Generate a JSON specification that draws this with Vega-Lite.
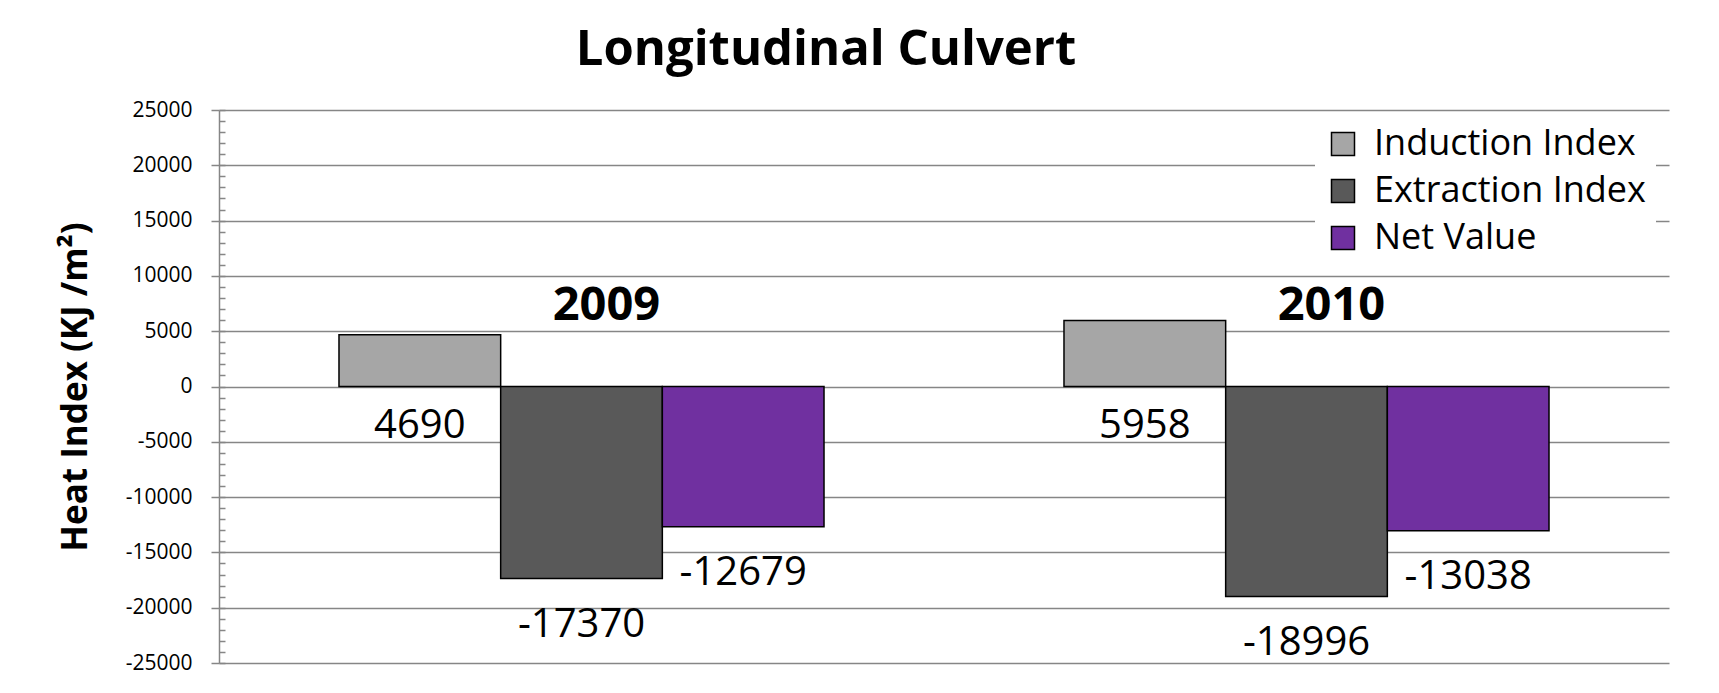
{
  "$schema": "https://vega.github.io/schema/vega-lite/v6.json",
  "width": 1450,
  "height": 553,
  "autosize": "none",
  "padding": {"left": 219, "top": 110, "right": 50, "bottom": 30},
  "background": "white",
  "config": {
    "view": {"stroke": null},
    "font": "Open Sans",
    "locale": {"number": {"decimal": ".", "thousands": ",", "grouping": [3], "currency": ["$", ""], "minus": "-"}}
  },
  "title": {"text": "Longitudinal Culvert", "font": "Open Sans", "fontSize": 49, "fontWeight": "bold", "color": "black", "anchor": "middle", "dx": -118, "offset": 24},
  "data": {"values": [
    {"year": "2009", "series": "Induction Index", "value": 4690},
    {"year": "2009", "series": "Extraction Index", "value": -17370},
    {"year": "2009", "series": "Net Value", "value": -12679},
    {"year": "2010", "series": "Induction Index", "value": 5958},
    {"year": "2010", "series": "Extraction Index", "value": -18996},
    {"year": "2010", "series": "Net Value", "value": -13038}
  ]},
  "resolve": {"axis": {"y": "independent"}},
  "layer": [
    {
      "mark": {"type": "bar", "stroke": "black", "strokeWidth": 1.5},
      "encoding": {
        "x": {"field": "year", "type": "nominal", "axis": null, "scale": {"paddingInner": 0.331, "paddingOuter": 0.1655}},
        "xOffset": {"field": "series", "type": "nominal", "sort": ["Induction Index", "Extraction Index", "Net Value"], "scale": {"paddingInner": 0, "paddingOuter": 0}},
        "y": {"field": "value", "type": "quantitative", "scale": {"domain": [-25000, 25000], "nice": false, "zero": false},
          "axis": {"orient": "left", "values": [-25000, -20000, -15000, -10000, -5000, 0, 5000, 10000, 15000, 20000, 25000], "format": "d", "title": "Heat Index (KJ /m²)", "titleFont": "Open Sans", "titleFontSize": 35, "titleFontWeight": "bold", "titleColor": "black", "titlePadding": 32, "labelFont": "Open Sans", "labelFontSize": 21, "labelColor": "black", "labelPadding": 19, "tickSize": 8, "tickColor": "#868686", "tickWidth": 1.5, "domainColor": "#868686", "domainWidth": 1.5, "grid": true, "gridColor": "#868686", "gridWidth": 1.5}},
        "color": {"field": "series", "type": "nominal", "sort": ["Induction Index", "Extraction Index", "Net Value"],
          "scale": {"domain": ["Induction Index", "Extraction Index", "Net Value"], "range": ["#A6A6A6", "#595959", "#7030A0"]},
          "legend": {"title": null, "orient": "none", "legendX": 1096, "legendY": 6, "fillColor": "white", "padding": 10, "symbolType": "square", "symbolSize": 529, "symbolStrokeColor": "black", "symbolStrokeWidth": 1.5, "labelFont": "Open Sans", "labelFontSize": 36, "labelColor": "black", "labelOffset": 13, "rowPadding": 11, "labelLimit": 400}}
      }
    },
    {
      "transform": [{"filter": "datum.value < 0"}],
      "mark": {"type": "text", "font": "Open Sans", "fontSize": 40, "color": "black", "baseline": "middle", "dy": 46},
      "encoding": {
        "x": {"field": "year", "type": "nominal"},
        "xOffset": {"field": "series", "type": "nominal", "sort": ["Induction Index", "Extraction Index", "Net Value"]},
        "y": {"field": "value", "type": "quantitative", "axis": null},
        "text": {"field": "value", "type": "quantitative", "format": "d"}
      }
    },
    {
      "transform": [{"filter": "datum.value > 0"}],
      "mark": {"type": "text", "font": "Open Sans", "fontSize": 40, "color": "black", "baseline": "middle", "dy": 39},
      "encoding": {
        "x": {"field": "year", "type": "nominal"},
        "xOffset": {"field": "series", "type": "nominal", "sort": ["Induction Index", "Extraction Index", "Net Value"]},
        "y": {"datum": 0, "type": "quantitative", "axis": null},
        "text": {"field": "value", "type": "quantitative", "format": "d"}
      }
    },
    {
      "data": {"values": [{"year": "2009"}, {"year": "2010"}]},
      "mark": {"type": "text", "font": "Open Sans", "fontSize": 47, "fontWeight": "bold", "color": "black", "baseline": "middle", "dx": 25},
      "encoding": {
        "x": {"field": "year", "type": "nominal"},
        "y": {"datum": 7300, "type": "quantitative",
          "axis": {"orient": "left", "values": [-25000, -24000, -23000, -22000, -21000, -20000, -19000, -18000, -17000, -16000, -15000, -14000, -13000, -12000, -11000, -10000, -9000, -8000, -7000, -6000, -5000, -4000, -3000, -2000, -1000, 0, 1000, 2000, 3000, 4000, 5000, 6000, 7000, 8000, 9000, 10000, 11000, 12000, 13000, 14000, 15000, 16000, 17000, 18000, 19000, 20000, 21000, 22000, 23000, 24000, 25000], "labels": false, "domain": false, "grid": false, "title": null, "tickSize": -6, "tickColor": "#868686", "tickWidth": 1.5}},
        "text": {"field": "year", "type": "nominal"}
      }
    }
  ]
}
